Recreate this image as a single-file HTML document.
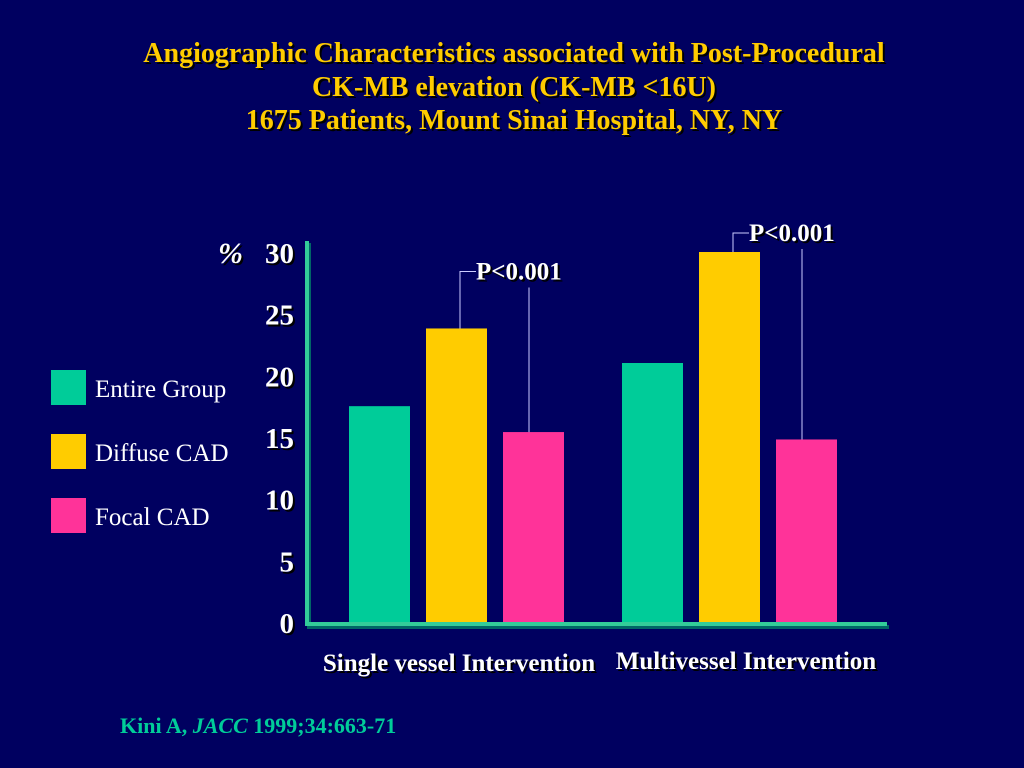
<!DOCTYPE html>
<html><head><meta charset="utf-8"><style>
body{margin:0;background:#000060;}
svg{display:block;}
text{font-family:"Liberation Serif",serif;font-weight:bold;}
text.nb{font-weight:normal;}
</style></head><body>
<svg width="1024" height="768" viewBox="0 0 1024 768">
<rect width="1024" height="768" fill="#000060"/>
<g fill="#ffcc00" font-size="28" text-anchor="middle">
<text x="514" y="62" fill="#000" transform="translate(2,2)">Angiographic Characteristics associated with Post-Procedural</text>
<text x="514" y="96" fill="#000" transform="translate(2,2)">CK-MB elevation (CK-MB &lt;16U)</text>
<text x="514" y="129" fill="#000" transform="translate(2,2)">1675 Patients, Mount Sinai Hospital, NY, NY</text>
<text x="514" y="62">Angiographic Characteristics associated with Post-Procedural</text>
<text x="514" y="96">CK-MB elevation (CK-MB &lt;16U)</text>
<text x="514" y="129">1675 Patients, Mount Sinai Hospital, NY, NY</text>
</g>
<g id="legend"></g>
<g id="axes"></g>
<g id="bars"></g>
<g id="annot"></g>
<text x="120" y="733" font-size="22" fill="#00cc99">Kini A, <tspan font-style="italic">JACC</tspan> 1999;34:663-71</text>
</svg>
<script>
const categories=["Single vessel Intervention","Multivessel Intervention"];
const seriesNames=["Entire Group","Diffuse CAD","Focal CAD"];
const entireGroup=[17.5,21];
const diffuseCAD=[23.8,30];
const focalCAD=[15.4,14.8];
const yTicks=[0,5,10,15,20,25,30];
const pLabels=["P<0.001","P<0.001"];
const colors=["#00cc99","#ffcc00","#ff3399"];
const NS="http://www.w3.org/2000/svg";
function mk(t,a,p){const e=document.createElementNS(NS,t);for(const k in a)e.setAttribute(k,a[k]);p.appendChild(e);return e;}
const y0=622,y1=252;
function yS(v){return y0-(v/30)*(y0-y1);}
const groupX=[349,622],barW=61,barStep=77;
function xB(g,s){return groupX[g]+s*barStep;}
const ax=document.getElementById('axes');
let e=mk('rect',{x:307,y:243,width:4,height:384,fill:'#006666'},ax);

e=mk('rect',{x:305,y:241,width:4,height:384,fill:'#33cc99'},ax);

e=mk('rect',{x:307,y:625,width:582,height:4,fill:'#006666'},ax);

e=mk('rect',{x:305,y:622,width:582,height:4,fill:'#33cc99'},ax);

yTicks.forEach(v=>{
 const s=mk('text',{x:294,y:yS(v)+11,'font-size':29,'text-anchor':'end',fill:'#000',transform:'translate(2,2)'},ax);s.textContent=v;
 const t=mk('text',{x:294,y:yS(v)+11,'font-size':29,'text-anchor':'end',fill:'#fff'},ax);t.textContent=v;
 
});
let s=mk('text',{x:243,y:263,'font-size':30,'text-anchor':'end',fill:'#000',transform:'translate(2,2)','font-style':'italic'},ax);s.textContent='%';
let p=mk('text',{x:243,y:263,'font-size':30,'text-anchor':'end',fill:'#fff','font-style':'italic'},ax);p.textContent='%';

const catX=[459,746],catY=[671,669];
categories.forEach((c,i)=>{
 const s=mk('text',{x:catX[i],y:catY[i],'font-size':25,'text-anchor':'middle',fill:'#000',transform:'translate(2,2)'},ax);s.textContent=c;
 const t=mk('text',{x:catX[i],y:catY[i],'font-size':25,'text-anchor':'middle',fill:'#fff'},ax);t.textContent=c;
 
});
const bg=document.getElementById('bars');
const series=[entireGroup,diffuseCAD,focalCAD];
series.forEach((vals,si)=>vals.forEach((v,g)=>{
 const r=mk('rect',{x:xB(g,si),y:yS(v),width:barW,height:y0-yS(v),fill:colors[si]},bg);
 
}));
const an=document.getElementById('annot');
const bracketGap=[57,19];
pLabels.forEach((lab,g)=>{
 const xl=xB(g,1)+34, xr=xB(g,2)+26;
 const ty=yS(diffuseCAD[g])-bracketGap[g];
 mk('polyline',{points:`${xl},${yS(diffuseCAD[g])} ${xl},${ty} ${xl+16},${ty}`,fill:'none',stroke:'#ccccff','stroke-width':1},an);
 mk('line',{x1:xr,y1:ty+16,x2:xr,y2:yS(focalCAD[g]),stroke:'#ccccff','stroke-width':1},an);
 const s=mk('text',{x:xl+16,y:ty+8,'font-size':25,fill:'#000',transform:'translate(2,2)'},an);s.textContent=lab;
 const t=mk('text',{x:xl+16,y:ty+8,'font-size':25,fill:'#fff'},an);t.textContent=lab;
 
});
const lg=document.getElementById('legend');
seriesNames.forEach((n,i)=>{
 const y=370+i*64;
 const r=mk('rect',{x:51,y:y,width:35,height:35,fill:colors[i]},lg);
 
 const t=mk('text',{x:95,y:y+27,'font-size':25,fill:'#fff','class':'nb'},lg);t.textContent=n;
 
});
</script>
</body></html>
